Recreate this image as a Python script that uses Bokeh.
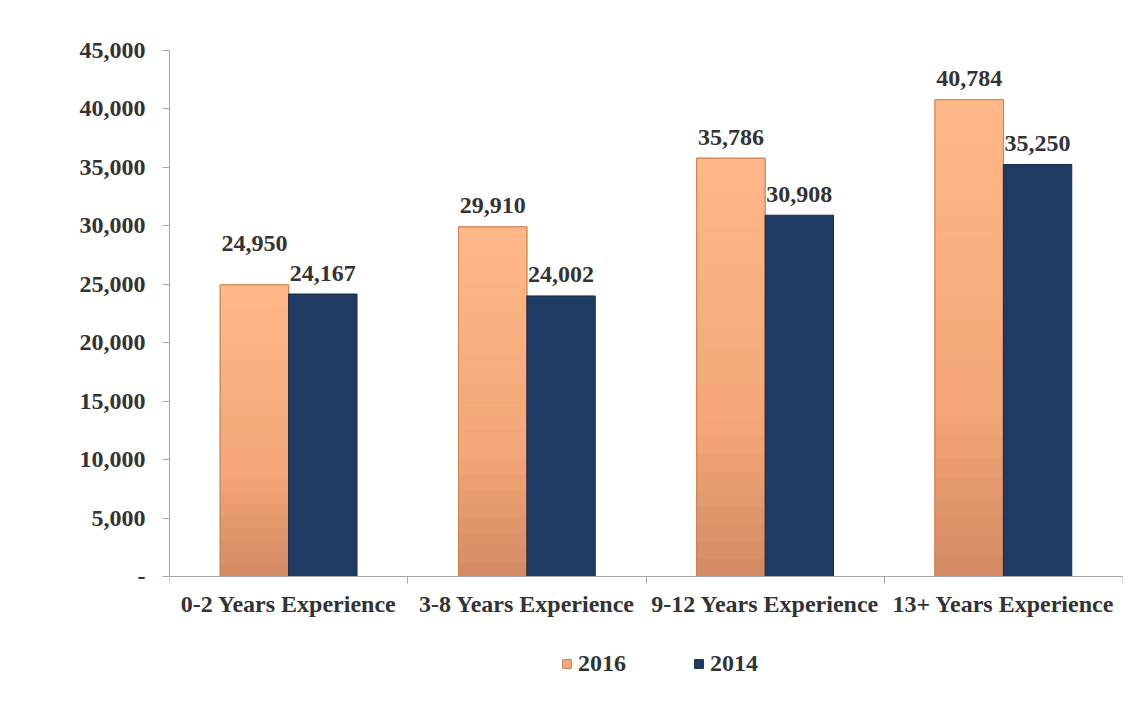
from bokeh.plotting import figure
from bokeh.models import (ColumnDataSource, FixedTicker, NumeralTickFormatter, Range1d, Legend,
                          LegendItem, LinearAxis)
from bokeh.core.properties import value
from bokeh.embed import file_html
from bokeh.resources import INLINE

categories = ["0-2 Years Experience", "3-8 Years Experience", "9-12 Years Experience", "13+ Years Experience"]
series_names = ["2016", "2014"]
values_2016 = [24950, 29910, 35786, 40784]
values_2014 = [24167, 24002, 30908, 35250]
y_ticks = [0, 5000, 10000, 15000, 20000, 25000, 30000, 35000, 40000, 45000]

FONT = "Liberation Serif"
TXT = "#333333"
C16 = "#F5A878"
C16_LINE = "#C98258"
C14 = "#1F3B63"
C14_LINE = "#172C4A"
AX = "#A6A6A6"
FS = "24px"
# vertical shading of the 2016 bars: (relative height, colour)
G16 = [(0.0, (0xD3, 0x8A, 0x63)), (0.35, (0xF3, 0xA6, 0x77)), (1.0, (0xFF, 0xB8, 0x88))]

n = len(categories)
centers = [i + 0.5 for i in range(n)]
bw = 0.287
x16 = [c - bw / 2 for c in centers]
x14 = [c + bw / 2 for c in centers]

fmt = lambda v: f"{v:,}"
# lift a label when the neighbouring bar is almost as tall
lift16 = [-21 - (20 if (a - b) < 1500 else 0) for a, b in zip(values_2016, values_2014)]

src16 = ColumnDataSource(dict(x=x16, top=values_2016, label=[fmt(v) for v in values_2016], yoff=lift16))
src14 = ColumnDataSource(dict(x=x14, top=values_2014, label=[fmt(v) for v in values_2014]))


def shade(t):
    for (t0, c0), (t1, c1) in zip(G16[:-1], G16[1:]):
        if t <= t1:
            f = (t - t0) / (t1 - t0)
            return "#%02x%02x%02x" % tuple(round(a + (b - a) * f) for a, b in zip(c0, c1))
    return "#%02x%02x%02x" % G16[-1][1]


N = 24
gx, gb, gt, gc = [], [], [], []
for x, v in zip(x16, values_2016):
    for k in range(N):
        gx.append(x)
        gb.append(v * k / N)
        gt.append(v * (k + 1) / N)
        gc.append(shade((k + 0.5) / N))
grad = ColumnDataSource(dict(x=gx, bottom=gb, top=gt, color=gc))

y_max = y_ticks[-1]
# the plot frame continues below zero to leave room for the category labels and legend
y_min = -y_max * 119 / 526

p = figure(width=1143, height=701, output_backend="svg", toolbar_location=None,
           x_range=Range1d(0, n), y_range=Range1d(y_min, y_max), x_axis_location=None,
           min_border_left=169, min_border_right=21, min_border_top=50, min_border_bottom=6)
p.outline_line_color = None
p.xgrid.grid_line_color = None
p.ygrid.grid_line_color = None

r16 = p.vbar(x="x", top="top", bottom=0, width=bw, source=src16, fill_color=C16, line_color=C16_LINE, line_width=1)
p.vbar(x="x", top="top", bottom="bottom", width=bw, source=grad, fill_color="color", line_color="color", line_width=0.6)
p.vbar(x="x", top="top", bottom=0, width=bw, source=src16, fill_alpha=0, line_color=C16_LINE, line_width=1)
r14 = p.vbar(x="x", top="top", bottom=0, width=bw, source=src14, fill_color=C14, line_color=C14_LINE, line_width=1)

p.text(x="x", y="top", text="label", source=src16, text_align="center", text_baseline="middle",
       y_offset="yoff", text_font=value(FONT), text_font_style="bold", text_font_size=FS, text_color=TXT)
p.text(x="x", y="top", text="label", source=src14, text_align="center", text_baseline="middle",
       y_offset=-21, text_font=value(FONT), text_font_style="bold", text_font_size=FS, text_color=TXT)

# y axis
ya = p.yaxis[0]
ya.ticker = FixedTicker(ticks=y_ticks, minor_ticks=[])
ya.bounds = (0, y_max)
ya.formatter = NumeralTickFormatter(format="0,0")
ya.major_label_overrides = {0: "-"}
ya.axis_line_color = AX
ya.major_tick_line_color = AX
ya.major_tick_out = 7
ya.major_tick_in = 0
ya.minor_tick_line_color = None
ya.major_label_standoff = 17
ya.major_label_text_font = FONT
ya.major_label_text_font_style = "bold"
ya.major_label_text_font_size = FS
ya.major_label_text_color = TXT

# x axis at y = 0: labels at category centres, ticks at category boundaries
xa = LinearAxis(fixed_location=0)
xa.ticker = FixedTicker(ticks=centers, minor_ticks=list(range(n + 1)))
xa.major_label_overrides = {c: cat for c, cat in zip(centers, categories)}
xa.axis_line_color = AX
xa.major_tick_line_color = None
xa.major_tick_out = 0
xa.major_tick_in = 0
xa.minor_tick_line_color = AX
xa.minor_tick_out = 7
xa.minor_tick_in = 0
xa.major_label_standoff = 7
xa.major_label_text_font = FONT
xa.major_label_text_font_style = "bold"
xa.major_label_text_font_size = FS
xa.major_label_text_color = TXT
p.add_layout(xa, "below")

legend = Legend(items=[LegendItem(label=series_names[0], renderers=[r16]),
                       LegendItem(label=series_names[1], renderers=[r14])],
                orientation="horizontal", location=(392, 18),
                glyph_width=11, glyph_height=11, label_standoff=6, spacing=67,
                padding=0, margin=0, border_line_color=None, background_fill_alpha=0,
                label_text_font=FONT, label_text_font_style="bold", label_text_font_size=FS,
                label_text_color=TXT)
p.add_layout(legend, "center")

open("out.html", "w").write(file_html(p, INLINE))
